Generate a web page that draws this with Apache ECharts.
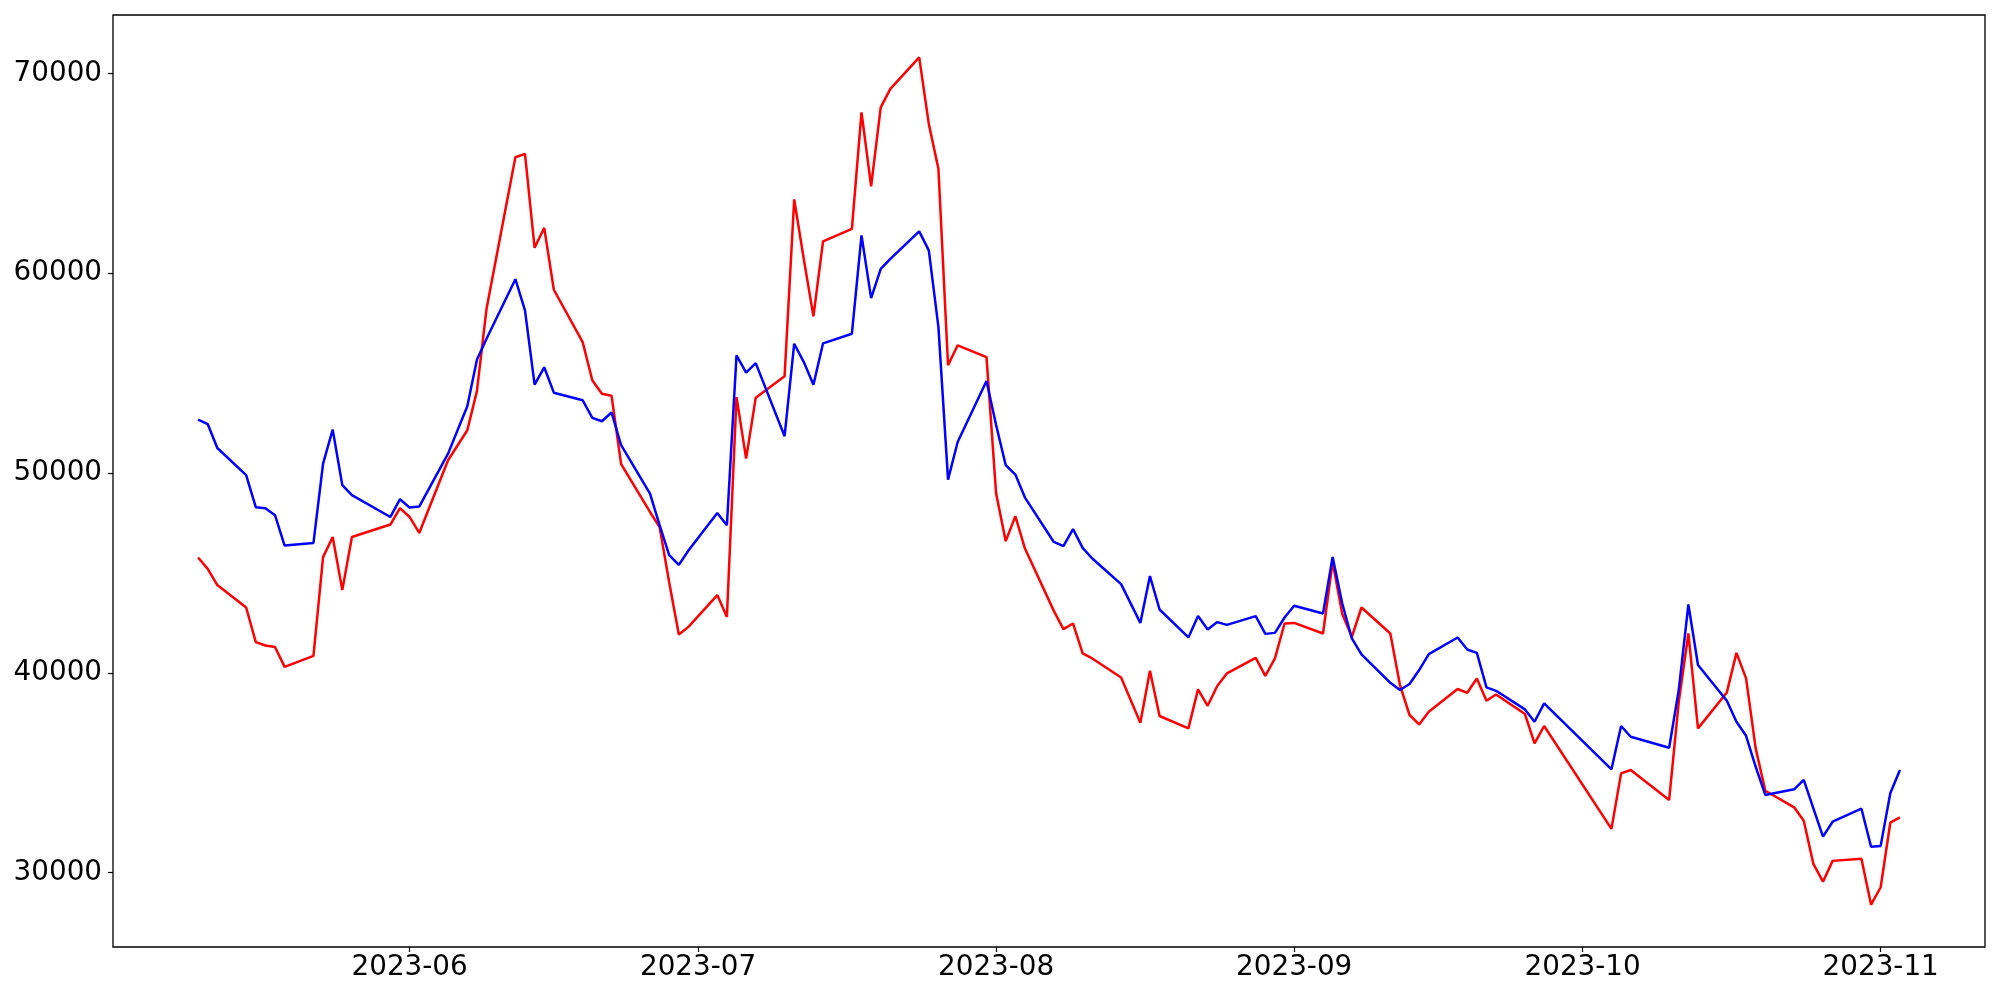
<!DOCTYPE html>
<html>
<head>
<meta charset="utf-8">
<title>chart</title>
<script src="https://cdn.jsdelivr.net/npm/echarts@6/dist/echarts.min.js"></script>
<style>
  html, body { margin: 0; padding: 0; background: #fff; }
  #chart { width: 2000px; height: 1000px; }
</style>
</head>
<body>
<div id="chart"></div>
<script>
// trading days (weekdays, with market holidays missing)
const dates = [
  '2023-05-10','2023-05-11','2023-05-12','2023-05-15','2023-05-16','2023-05-17','2023-05-18','2023-05-19',
  '2023-05-22','2023-05-23','2023-05-24','2023-05-25','2023-05-26','2023-05-30','2023-05-31','2023-06-01','2023-06-02',
  '2023-06-05','2023-06-07','2023-06-08','2023-06-09','2023-06-12','2023-06-13','2023-06-14','2023-06-15','2023-06-16',
  '2023-06-19','2023-06-20','2023-06-21','2023-06-22','2023-06-23','2023-06-26','2023-06-27','2023-06-28','2023-06-29','2023-06-30',
  '2023-07-03','2023-07-04','2023-07-05','2023-07-06','2023-07-07','2023-07-10','2023-07-11','2023-07-12','2023-07-13','2023-07-14',
  '2023-07-17','2023-07-18','2023-07-19','2023-07-20','2023-07-21','2023-07-24','2023-07-25','2023-07-26','2023-07-27','2023-07-28','2023-07-31',
  '2023-08-01','2023-08-02','2023-08-03','2023-08-04','2023-08-07','2023-08-08','2023-08-09','2023-08-10','2023-08-11',
  '2023-08-14','2023-08-16','2023-08-17','2023-08-18','2023-08-21','2023-08-22','2023-08-23','2023-08-24','2023-08-25',
  '2023-08-28','2023-08-29','2023-08-30','2023-08-31','2023-09-01',
  '2023-09-04','2023-09-05','2023-09-06','2023-09-07','2023-09-08','2023-09-11','2023-09-12','2023-09-13','2023-09-14','2023-09-15',
  '2023-09-18','2023-09-19','2023-09-20','2023-09-21','2023-09-22','2023-09-25','2023-09-26','2023-09-27',
  '2023-10-04','2023-10-05','2023-10-06','2023-10-10','2023-10-11','2023-10-12','2023-10-13',
  '2023-10-16','2023-10-17','2023-10-18','2023-10-19','2023-10-20','2023-10-23','2023-10-24','2023-10-25','2023-10-26','2023-10-27',
  '2023-10-30','2023-10-31','2023-11-01','2023-11-02','2023-11-03'
]

const redValues = [
  45770, 45200, 44390, 43270, 41540, 41370, 41290, 40300,
  40850, 45790, 46800, 44140, 46800, 47420, 48240, 47800, 47000,
  50640, 52140, 54100, 58220, 65800, 65970, 61270, 62270, 59170,
  56550, 54640, 53970, 53870, 50440, 48050, 47300, 44520, 41920, 42300,
  43890, 42800, 53800, 50720, 53770, 54840, 63690, 60700, 57840, 61590,
  62220, 68050, 64350, 68300, 69220, 70800, 67470, 65220, 55390, 56390, 55800,
  48970, 46590, 47840, 46220, 43100, 42190, 42470, 40970, 40720,
  39770, 37500, 40100, 37840, 37220, 39170, 38350, 39340, 39970,
  40750, 39850, 40720, 42470, 42500,
  41970, 45550, 42940, 41800, 43270, 41970, 39390, 37890, 37420, 38050,
  39190, 39000, 39720, 38600, 38920, 37940, 36470, 37340,
  32190, 34970, 35140, 33640, 38550, 41970, 37220,
  39020, 41000, 39720, 36220, 34100, 33270, 32600, 30440, 29550, 30590,
  30700, 28400, 29270, 32500, 32770
]

const blueValues = [
  52670, 52450, 51250, 49890, 48290, 48240, 47890, 46370,
  46500, 50470, 52170, 49390, 48890, 47800, 48690, 48270, 48320,
  50970, 53340, 55670, 56720, 59700, 58140, 54420, 55290, 54020,
  53640, 52760, 52590, 53030, 51390, 48970, 47390, 45890, 45400, 46120,
  48000, 47390, 55890, 55020, 55500, 51840, 56470, 55550, 54420, 56490,
  56970, 61890, 58750, 60220, 60720, 62090, 61140, 57300, 49670, 51550, 54600,
  52400, 50390, 49920, 48770, 46550, 46340, 47190, 46250, 45720,
  44440, 42500, 44840, 43170, 41770, 42840, 42170, 42540, 42400,
  42840, 41950, 42000, 42770, 43360,
  42970, 45800, 43470, 41720, 40920, 39500, 39140, 39440, 40140, 40940,
  41770, 41170, 41000, 39270, 39100, 38170, 37550, 38470,
  35170, 37340, 36800, 36250, 39140, 43420, 40390,
  38600, 37550, 36850, 35300, 33890, 34170, 34640, 33220, 31800, 32550,
  33200, 31300, 31340, 33970, 35140
]

const xTickLabels = ['2023-06', '2023-07', '2023-08', '2023-09', '2023-10', '2023-11']
const yTickValues = [30000, 40000, 50000, 60000, 70000]

function toTime(s) {
  const p = s.split('-')
  return Date.UTC(+p[0], +p[1] - 1, p[2] ? +p[2] : 1)
}

const times = dates.map(toTime)
const xTicks = xTickLabels.map(toTime)

// matplotlib style 5% margins around the data
const tMin = times[0], tMax = times[times.length - 1]
const tPad = (tMax - tMin) * 0.05
const allVals = redValues.concat(blueValues)
const vMin = Math.min.apply(null, allVals), vMax = Math.max.apply(null, allVals)
const vPad = (vMax - vMin) * 0.05

const font = { fontFamily: 'DejaVu Sans', fontSize: 27.8, color: '#000' }
const tickStyle = { color: '#000', width: 1.2 }

const chart = echarts.init(document.getElementById('chart'))
chart.setOption({
  animation: false,
  backgroundColor: '#fff',
  grid: {
    left: 113, right: 15, top: 15, bottom: 53,
    show: true, borderColor: '#000', borderWidth: 1.3,
    backgroundColor: 'transparent'
  },
  // dates kept as timestamps on a plain value axis
  xAxis: {
    type: 'value',
    min: tMin - tPad,
    max: tMax + tPad,
    axisLine: { show: false },
    splitLine: { show: false },
    axisTick: { show: true, length: 5, lineStyle: tickStyle, customValues: xTicks },
    axisLabel: Object.assign({
      margin: 7,
      customValues: xTicks,
      formatter: function (v) {
        return xTickLabels[xTicks.indexOf(v)] || ''
      }
    }, font)
  },
  yAxis: {
    type: 'value',
    min: vMin - vPad,
    max: vMax + vPad,
    axisLine: { show: false },
    splitLine: { show: false },
    axisTick: { show: true, length: 5, lineStyle: tickStyle, customValues: yTickValues },
    axisLabel: Object.assign({
      margin: 11,
      customValues: yTickValues,
      formatter: function (v) { return String(v) }
    }, font)
  },
  series: [{
    type: 'line',
    data: times.map((t, i) => [t, redValues[i]]),
    showSymbol: false,
    lineStyle: { color: '#ff0000', width: 2.5 },
    itemStyle: { color: '#ff0000' }
  }, {
    type: 'line',
    data: times.map((t, i) => [t, blueValues[i]]),
    showSymbol: false,
    lineStyle: { color: '#0000ff', width: 2.5 },
    itemStyle: { color: '#0000ff' }
  }]
})
</script>
</body>
</html>
